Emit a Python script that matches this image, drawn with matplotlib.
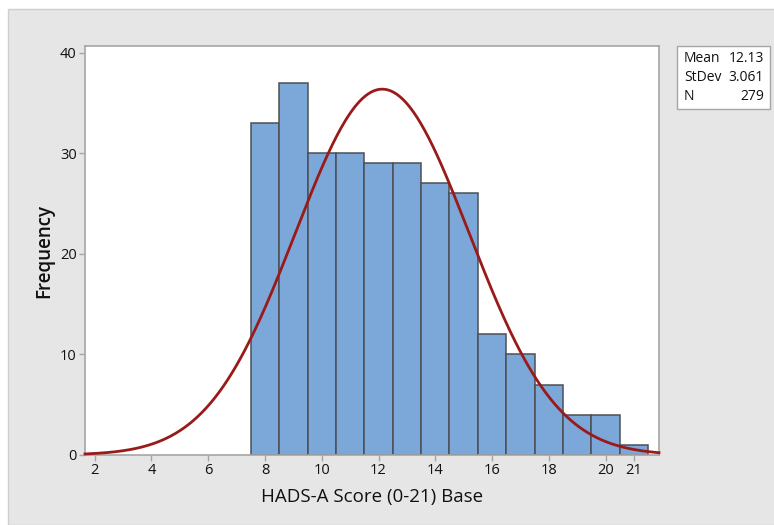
import matplotlib
matplotlib.use("Agg")
import matplotlib.pyplot as plt
import numpy as np
from matplotlib.patches import Rectangle

plt.rcParams["font.family"] = ["Open Sans", "DejaVu Sans"]

# HADS-A score bins (integer scores) and observed counts
SCORES = [8, 9, 10, 11, 12, 13, 14, 15, 16, 17, 18, 19, 20, 21]
COUNTS = [33, 37, 30, 30, 29, 29, 27, 26, 12, 10, 7, 4, 4, 1]

MEAN = 12.13
STDEV = 3.061
N = 279

X_TICKS = [2, 4, 6, 8, 10, 12, 14, 16, 18, 20, 21]
Y_TICKS = [0, 10, 20, 30, 40]

BAR_COLOR = "#7ca7d9"
BAR_EDGE = "#4d4f55"
CURVE_COLOR = "#9a1a1a"
SPINE_COLOR = "#a6a6a6"
PANEL_COLOR = "#e6e6e6"

fig = plt.figure(figsize=(7.74, 5.25), dpi=100, facecolor="white")

# grey panel behind the plot, like a Minitab graph window
fig.patches.append(Rectangle((8 / 774, 0), 1, 1 - 9 / 525, transform=fig.transFigure,
                             facecolor=PANEL_COLOR, edgecolor="#cfcfcf", linewidth=1.0,
                             zorder=-10))

ax = fig.add_axes([85 / 774, (525 - 455) / 525, 574 / 774, 409 / 525])
ax.set_facecolor("white")

ax.bar(SCORES, COUNTS, width=1.0, color=BAR_COLOR, edgecolor=BAR_EDGE, linewidth=1.1,
       zorder=2)

# fitted normal curve scaled to counts (bin width 1)
xlo, xhi = 1.66, 21.88
xs = np.linspace(xlo, xhi, 400)
ys = N / (STDEV * np.sqrt(2 * np.pi)) * np.exp(-0.5 * ((xs - MEAN) / STDEV) ** 2)
ax.plot(xs, ys, color=CURVE_COLOR, linewidth=2.0, zorder=3, clip_on=False)

ax.set_xlim(xlo, xhi)
ax.set_ylim(0, 40.65)
ax.set_xticks(X_TICKS)
ax.set_yticks(Y_TICKS)
ax.tick_params(axis="both", colors=SPINE_COLOR, labelcolor="#111111", labelsize=10.5,
               length=4, width=1.0, pad=2)
for lbl in ax.get_xticklabels() + ax.get_yticklabels():
    lbl.set_fontweight("medium")
for side in ax.spines.values():
    side.set_color(SPINE_COLOR)
    side.set_linewidth(1.2)

ax.set_xlabel("HADS-A Score (0-21) Base", fontsize=13.5, fontweight="medium",
              color="#111111", labelpad=7)
ax.set_ylabel("Frequency", fontsize=13.5, fontweight="semibold", color="#111111",
              labelpad=4)

# summary statistics box
box_l, box_b, box_w, box_h = 677 / 774, (525 - 109) / 525, 93 / 774, 63 / 525
fig.patches.append(Rectangle((box_l, box_b), box_w, box_h, transform=fig.transFigure,
                             facecolor="white", edgecolor="#a6a6a6", linewidth=1.0))
stats = [("Mean", f"{MEAN:.2f}"), ("StDev", f"{STDEV:.3f}"), ("N", f"{N}")]
for i, (name, val) in enumerate(stats):
    y = (525 - 59 - i * 18.5) / 525
    fig.text(684 / 774, y, name, fontsize=10, fontweight="medium", va="center",
             ha="left", color="#111111")
    fig.text(764 / 774, y, val, fontsize=10, fontweight="medium", va="center",
             ha="right", color="#111111")

fig.savefig("out.png", dpi=100, facecolor=fig.get_facecolor())
